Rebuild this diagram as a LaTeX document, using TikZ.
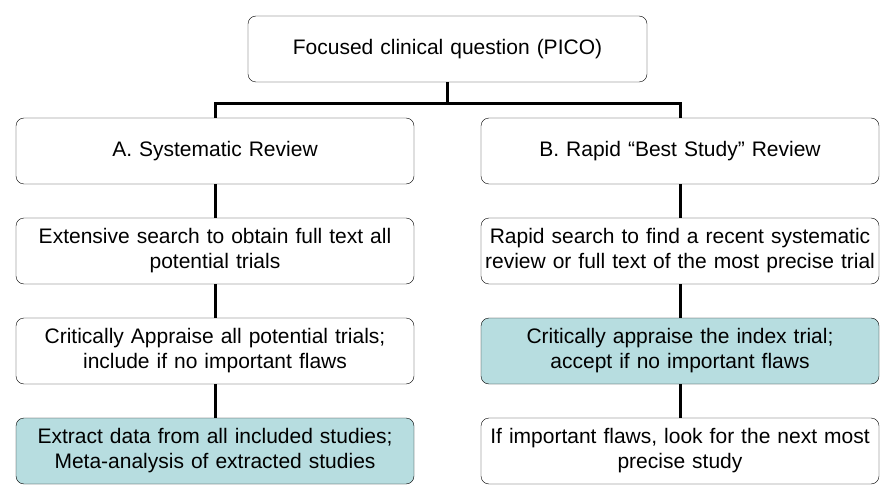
\documentclass[tikz,border=0pt]{standalone}
\usepackage{fontspec}
\setmainfont{Liberation Sans}
\definecolor{paleaqua}{HTML}{B7DDE0}

\begin{document}
\begin{tikzpicture}[x=1pt, y=-1pt,
        box/.style={draw, thin, rounded corners=8pt, fill=white,
            minimum width=398pt, minimum height=66pt, text width=396pt,
            align=center, inner sep=0pt,
            font=\fontsize{21}{25}\selectfont},
        shaded/.style={box, fill=paleaqua},
        link/.style={line width=3pt}
    ]
        \def\xLeft{215}
        \def\xRight{680}
        \def\xMid{447.5}

        % fix page size
        \useasboundingbox (0, 0) rectangle (895, 500);

        \node [box, minimum width=399pt] (pico) at (\xMid, 49) {Focused clinical question (PICO)};

        % left column
        \node [box] (sysrev) at (\xLeft, 151) {A. Systematic Review};
        \node [box] (extsearch) at (\xLeft, 251) {Extensive search to obtain full text all\\potential trials};
        \node [box] (appraiseall) at (\xLeft, 351) {Critically Appraise all potential trials;\\include if no important flaws};
        \node [shaded] (extract) at (\xLeft, 451) {Extract data from all included studies;\\Meta-analysis of extracted studies};

        % right column
        \node [box] (rapidrev) at (\xRight, 151) {B. Rapid \textquotedblleft Best Study\textquotedblright{} Review};
        \node [box] (rapidsearch) at (\xRight, 251) {Rapid search to find a recent systematic\\review or full text of the most precise trial};
        \node [shaded] (appraiseidx) at (\xRight, 351) {Critically appraise the index trial;\\accept if no important flaws};
        \node [box] (nextstudy) at (\xRight, 451) {If important flaws, look for the next most\\precise study};

        % branch
        \coordinate (split) at (\xMid, 104);
        \draw [link] (pico.south) -- (split);
        \draw [link] (split) -| (sysrev.north);
        \draw [link] (split) -| (rapidrev.north);

        \draw [link] (sysrev) -- (extsearch);
        \draw [link] (extsearch) -- (appraiseall);
        \draw [link] (appraiseall) -- (extract);
        \draw [link] (rapidrev) -- (rapidsearch);
        \draw [link] (rapidsearch) -- (appraiseidx);
        \draw [link] (appraiseidx) -- (nextstudy);
    \end{tikzpicture}
\end{document}
